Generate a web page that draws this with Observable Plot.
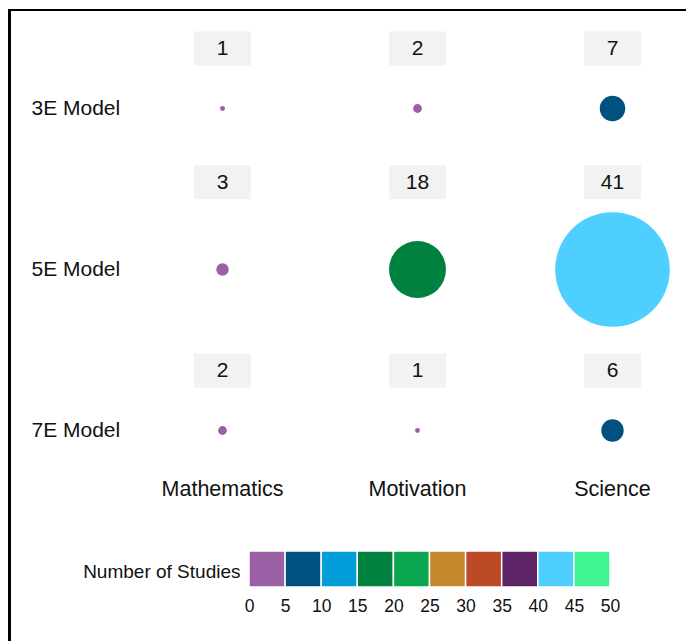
<!DOCTYPE html>
<html>
<head>
<meta charset="utf-8">
<script src="https://cdn.jsdelivr.net/npm/d3@7"></script>
<script src="https://cdn.jsdelivr.net/npm/@observablehq/plot@0.6"></script>
<style>
  html, body { margin: 0; padding: 0; background: #fff; overflow: hidden; width: 686px; height: 641px; }
  #wrap { position: relative; width: 686px; height: 641px; overflow: hidden; }
  #ftop { position: absolute; left: 8px; top: 9px; width: 678px; height: 2px; background: #000; }
  #fleft { position: absolute; left: 8px; top: 9px; width: 3px; height: 632px; background: #000; }
  svg { display: block; }
</style>
</head>
<body>
<div id="wrap"><div id="ftop"></div><div id="fleft"></div></div>
<script>
// ---- data ----
const models = ["3E Model", "5E Model", "7E Model"];
const subjects = ["Mathematics", "Motivation", "Science"];
const counts3E = [1, 2, 7];
const counts5E = [3, 18, 41];
const counts7E = [2, 1, 6];
const binEdges = [0, 5, 10, 15, 20, 25, 30, 35, 40, 45, 50];
const thresholds = [5, 10, 15, 20, 25, 30, 35, 40, 45];
const legendTicks = [0, 5, 10, 15, 20, 25, 30, 35, 40, 45, 50];
const legendColors = ["#9B5FA6", "#00517F", "#009DD9", "#00813F", "#0AA650",
                      "#C5882C", "#BC4A26", "#5D2366", "#4FCFFF", "#40F590"];
const legendTitle = "Number of Studies";

const countsByModel = [counts3E, counts5E, counts7E];
const table = models.flatMap((m, i) =>
  subjects.map((s, j) => ({model: m, subject: s, count: countsByModel[i][j]})));

const FONT = "Liberation Sans, Arial, sans-serif";
const rOpts = {type: "pow", exponent: 0.85, domain: [0, 41], range: [0, 57.3]};
const rScale = d3.scalePow().exponent(rOpts.exponent).domain(rOpts.domain).range(rOpts.range);
const colorOpts = {type: "threshold", domain: thresholds, range: legendColors};

const boxSymbol = { draw(ctx) { ctx.rect(-28.5, -17, 57, 34); } };

const labelMarks = models.flatMap(m => {
  const rowData = table.filter(d => d.model === m);
  const maxR = rScale(d3.max(rowData, d => d.count));
  const dy = -Math.max(60, maxR + 30);
  return [
    Plot.dot(rowData, {x: "subject", y: "model", symbol: boxSymbol, r: 5, fill: "#F2F2F2", dy}),
    Plot.text(rowData, {x: "subject", y: "model", text: d => String(d.count), dy, fontSize: 21, fill: "#111"})
  ];
});

const main = Plot.plot({
  width: 686, height: 520,
  marginTop: 0, marginRight: 0, marginBottom: 40, marginLeft: 31,
  x: {type: "point", domain: subjects, range: [221.5, 613.3], padding: 0},
  y: {type: "point", domain: models, range: [108, 430], padding: 0},
  r: rOpts,
  color: colorOpts,
  style: {fontFamily: FONT, fontSize: "21px", color: "#111", background: "transparent"},
  marks: [
    Plot.axisX({tickSize: 0, tickPadding: 0, fontSize: 21.5, label: null}),
    Plot.axisY({tickSize: 0, tickPadding: 0, textAnchor: "start", fontSize: 21, label: null}),
    ...labelMarks,
    Plot.dot(table, {x: "subject", y: "model", r: "count", fill: "count"})
  ]
});

const binStarts = binEdges.slice(0, -1);
const legend = Plot.plot({
  width: 686, height: 121,
  marginTop: 31, marginRight: 0, marginBottom: 54, marginLeft: 0,
  x: {domain: [0, 50], range: [249, 610]},
  color: colorOpts,
  style: {fontFamily: FONT, fontSize: "17px", color: "#111", background: "transparent"},
  marks: [
    Plot.rect(binStarts, {x1: d => d, x2: (d, i) => binEdges[i + 1], fill: d => d, stroke: "white", strokeWidth: 1.5}),
    Plot.axisX({ticks: legendTicks, tickSize: 0, tickPadding: 12, fontSize: 17.5, label: null, tickFormat: d => String(d)}),
    Plot.text([legendTitle], {x: 0, frameAnchor: "middle", textAnchor: "end", dx: -9, dy: 2, fontSize: 19, fill: "#111"})
  ]
});

const wrap = document.getElementById("wrap");
wrap.insertBefore(legend, wrap.firstChild);
wrap.insertBefore(main, wrap.firstChild);
</script>
</body>
</html>
